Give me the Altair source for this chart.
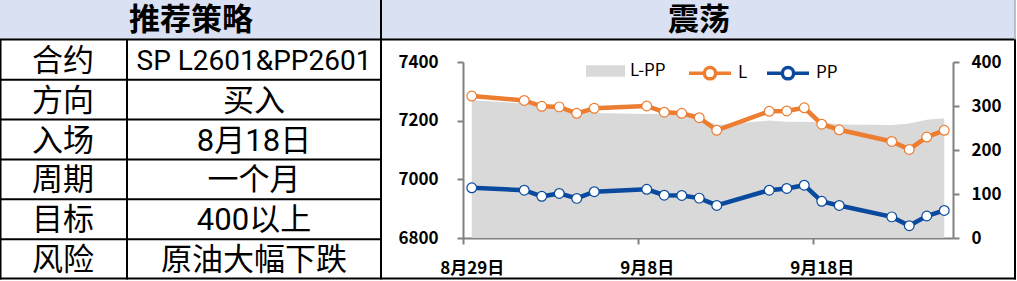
import altair as alt
import pandas as pd

# ---------------- data ----------------
dates = ["2025-08-29", "2025-09-01", "2025-09-02", "2025-09-03", "2025-09-04", "2025-09-05",
         "2025-09-08", "2025-09-09", "2025-09-10", "2025-09-11", "2025-09-12",
         "2025-09-15", "2025-09-16", "2025-09-17", "2025-09-18", "2025-09-19",
         "2025-09-22", "2025-09-23", "2025-09-24", "2025-09-25"]
l_price = [7284, 7269, 7249, 7247, 7225, 7242, 7250, 7229, 7225, 7210, 7167,
           7232, 7233, 7244, 7188, 7169, 7129, 7102, 7144, 7167]
pp_price = [6971, 6963, 6942, 6952, 6935, 6958, 6966, 6946, 6945, 6936, 6911,
            6963, 6969, 6980, 6925, 6911, 6872, 6842, 6875, 6894]
spread = [313, 306, 307, 295, 290, 284, 282, 283, 280, 274, 257,
          267, 264, 264, 263, 258, 257, 260, 269, 272]

series_names = ["L", "PP"]
spread_name = "L-PP"
left_ticks = [6800, 7000, 7200, 7400]
right_ticks = [0, 100, 200, 300, 400]

table_title = "推荐策略"
chart_title = "震荡"
items = ["合约", "方向", "入场", "周期", "目标", "风险"]
contents = ["SP L2601&PP2601", "买入", "8月18日", "一个月", "400以上", "原油大幅下跌"]

# ---------------- style ----------------
FONT = "Noto Sans CJK SC"
TFONT = "Roboto, Noto Sans CJK SC"
ORANGE = "#ED7D31"
BLUE = "#0A4A9E"
GRAY = "#D9D9D9"
HEAD = "#D9E1F2"
AXIS = "#808080"

W, H = 490, 176          # plot area
PL, PT = 463, 62         # plot origin in the page
PR, PB = 1017 - PL - W, 281 - PT - H

df = pd.DataFrame({"date": dates, "spread": spread, "name": spread_name})
long = pd.concat([
    pd.DataFrame({"date": dates, "price": l_price, "series": series_names[0]}),
    pd.DataFrame({"date": dates, "price": pp_price, "series": series_names[1]}),
])
tdf = pd.DataFrame({"item": items, "content": contents, "row": list(range(1, len(items) + 1))})

xscale = alt.Scale(type="utc", domain=[
    alt.DateTime(year=2025, month=8, date=28, hours=12, utc=True),
    alt.DateTime(year=2025, month=9, date=25, hours=12, utc=True)])

half_day = W / 28 / 2

xaxis = alt.Axis(
    values=[alt.DateTime(year=2025, month=8, date=29, utc=True),
            alt.DateTime(year=2025, month=9, date=8, utc=True),
            alt.DateTime(year=2025, month=9, date=18, utc=True)],
    labelExpr="utcFormat(datum.value, '%-m月%-d日')",
    tickOffset=-half_day, labelOffset=half_day, labelFlush=False, labelOverlap=False,
    domainColor=AXIS, domainWidth=2, tickColor=AXIS, tickWidth=2, tickSize=6,
    labelFont=FONT, labelFontSize=17, labelFontWeight="bold", labelColor="black",
    labelPadding=16, title=None, grid=False)

left_axis = alt.Axis(
    orient="left", values=left_ticks, format="d",
    domainColor=AXIS, domainWidth=2, tickColor=AXIS, tickWidth=2, tickSize=6,
    labelFont=FONT, labelFontSize=17, labelFontWeight="bold", labelColor="black",
    labelPadding=19, title=None, grid=False)

right_axis = alt.Axis(
    orient="right", values=right_ticks, format="d",
    domainColor=AXIS, domainWidth=2, tickColor=AXIS, tickWidth=2, tickSize=6,
    labelFont=FONT, labelFontSize=17, labelFontWeight="bold", labelColor="black",
    labelPadding=12, title=None, grid=False)

area_legend = alt.Legend(
    orient="none", legendX=586 - PL, legendY=71 - PT - 19.5, title=None,
    symbolType="M-1,-0.3H1V0.3H-1Z", symbolSize=39 * 39, symbolStrokeWidth=0,
    symbolStrokeColor=GRAY, labelFont=FONT, labelFontSize=17, labelColor="black",
    labelOffset=5)

line_legend = alt.Legend(
    orient="none", direction="horizontal", legendX=687 - PL, legendY=71 - PT - 21,
    title=None,
    symbolType="M-1,0H-0.27M0.27,0H1M-0.27,0A0.27,0.27 0 1,1 0.27,0A0.27,0.27 0 1,1 -0.27,0Z",
    symbolSize=42 * 42, symbolStrokeWidth=3.5, symbolFillColor="white",
    labelFont=FONT, labelFontSize=17, labelColor="black", labelOffset=5,
    columnPadding=12)

one = alt.Data(values=[{}])

# ---------------- table / frame ----------------
head_bg = alt.Chart(one).mark_rect(color=HEAD).encode(
    x=alt.value(-PL), x2=alt.value(1015 - PL), y=alt.value(-PT), y2=alt.value(40 - PT))

rowscale = alt.Scale(domain=[0, 7], range=[-PT, 279 - PT])

head_left = alt.Chart(alt.Data(values=[{"t": table_title}])).mark_text(
    font=TFONT, fontSize=31, fontWeight="bold", color="black", baseline="middle").encode(
    x=alt.value(191 - PL), y=alt.value(20.5 - PT), text="t:N")
head_right = alt.Chart(alt.Data(values=[{"t": chart_title}])).mark_text(
    font=TFONT, fontSize=31, fontWeight="bold", color="black", baseline="middle").encode(
    x=alt.value(699 - PL), y=alt.value(20.5 - PT), text="t:N")

item_text = alt.Chart(tdf).transform_calculate(mid="datum.row + 0.5").mark_text(
    font=TFONT, fontSize=31, color="black", baseline="middle", dy=2).encode(
    x=alt.value(63 - PL), y=alt.Y("mid:Q", scale=rowscale, axis=None), text="item:N")
content_text = alt.Chart(tdf).transform_calculate(mid="datum.row + 0.5").mark_text(
    font=TFONT, color="black", baseline="middle", dy=2).encode(
    x=alt.value(254 - PL), y=alt.Y("mid:Q", scale=rowscale, axis=None), text="content:N",
    size=alt.condition("datum.row == 1", alt.value(28), alt.value(31)))

row_rules = alt.Chart(tdf).transform_filter("datum.row >= 2").mark_rule(
    color="black", strokeWidth=2).encode(
    x=alt.value(-PL), x2=alt.value(381 - PL), y=alt.Y("row:Q", scale=rowscale, axis=None))


def hline(y, x1, x2):
    return alt.Chart(one).mark_rule(color="black", strokeWidth=2).encode(
        x=alt.value(x1 - PL), x2=alt.value(x2 - PL), y=alt.value(y - PT))


def vline(x, y1, y2, color="black", width=2):
    return alt.Chart(one).mark_rule(color=color, strokeWidth=width).encode(
        x=alt.value(x - PL), y=alt.value(y1 - PT), y2=alt.value(y2 - PT))


frame = [
    hline(39.5, 0, 1016),
    hline(278.5, 0, 1016),
    vline(0.75, 39.5, 279.5, width=1.5),
    vline(127, 39.5, 279.5),
    vline(381, 0, 279.5),
    vline(1015, 0, 40, color="#A6AEC4", width=1.5),
    vline(1015, 39.5, 279.5),
]

# ---------------- chart ----------------
area = alt.Chart(df).mark_area(opacity=1).encode(
    x=alt.X("date:T", scale=xscale, axis=xaxis),
    y=alt.Y("spread:Q", scale=alt.Scale(domain=[0, 400]), axis=right_axis, stack=False),
    color=alt.Color("name:N", scale=alt.Scale(domain=[spread_name], range=[GRAY]),
                    legend=area_legend))

lines = alt.Chart(long).mark_line(
    strokeWidth=4.5,
    point=alt.OverlayMarkDef(filled=False, fill="white", fillOpacity=1, opacity=1,
                             size=95, strokeWidth=1.2)).encode(
    x=alt.X("date:T", scale=xscale, axis=None),
    y=alt.Y("price:Q", scale=alt.Scale(domain=[6800, 7400]), axis=left_axis),
    color=alt.Color("series:N", scale=alt.Scale(domain=series_names, range=[ORANGE, BLUE]),
                    legend=line_legend))

chart = alt.layer(
    head_bg, head_left, head_right, item_text, content_text, row_rules, *frame, area, lines
).resolve_scale(
    x="independent", y="independent", color="independent"
).properties(
    width=W, height=H, autosize="none",
    padding={"left": PL, "top": PT, "right": PR, "bottom": PB},
    background="white",
).configure_view(strokeWidth=0)

chart.save("out.html", embed_options={"renderer": "svg", "actions": False})
